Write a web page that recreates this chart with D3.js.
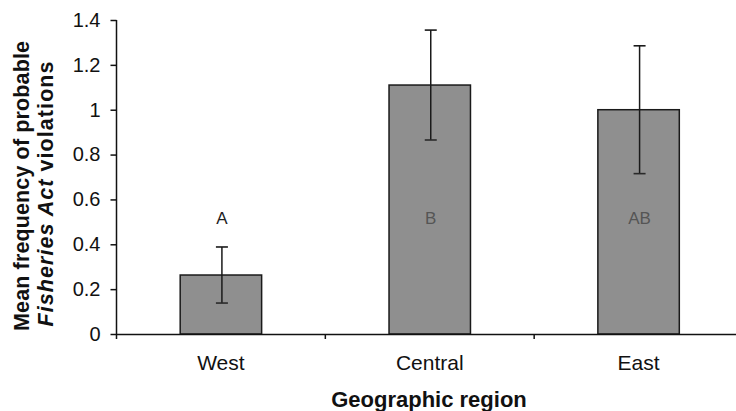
<!DOCTYPE html>
<html>
<head>
<meta charset="utf-8">
<script src="https://cdn.jsdelivr.net/npm/d3@7"></script>
<style>
  html, body { margin: 0; padding: 0; background: #fff; }
  svg { display: block; font-family: "Liberation Sans", Arial, sans-serif; }
</style>
</head>
<body>
<svg id="chart" width="736" height="411"></svg>
<script>
// data
const regions = ['West', 'Central', 'East'];
const meanViolations = [0.263, 1.11, 1.0];
const stdErrors = [0.125, 0.245, 0.285];
const groupLetters = ['A', 'B', 'AB'];
const yTicks = [0, 0.2, 0.4, 0.6, 0.8, 1, 1.2, 1.4];

const plotLeft = 116.5, plotRight = 743, plotTop = 20, plotBottom = 334;
const letterLevel = 0.49;

let svg = d3.select('#chart');

let x = d3.scaleBand()
  .domain(regions)
  .range([plotLeft, plotRight])
  .paddingInner(0.61)
  .paddingOuter(0.305);

let y = d3.scaleLinear()
  .domain([0, 1.4])
  .range([plotBottom, plotTop]);

let rows = regions.map((r, i) => ({
  region: r,
  mean: meanViolations[i],
  se: stdErrors[i],
  letter: groupLetters[i]
}));

// bars
svg.append('g')
  .attr('class', 'bars')
  .selectAll('rect')
  .data(rows)
  .join('rect')
  .attr('x', d => x(d.region))
  .attr('y', d => y(d.mean))
  .attr('width', x.bandwidth())
  .attr('height', d => y(0) - y(d.mean))
  .attr('fill', '#8f8f8f')
  .attr('stroke', '#1a1a1a')
  .attr('stroke-width', 1.5);

// error bars
let err = svg.append('g')
  .attr('class', 'errors')
  .selectAll('g')
  .data(rows)
  .join('g')
  .attr('transform', d => `translate(${x(d.region) + x.bandwidth() / 2 + 1},0)`);

err.append('line')
  .attr('y1', d => y(d.mean - d.se))
  .attr('y2', d => y(d.mean + d.se))
  .attr('stroke', '#1a1a1a')
  .attr('stroke-width', 1.5);

err.append('line')
  .attr('x1', -6).attr('x2', 6)
  .attr('y1', d => y(d.mean + d.se))
  .attr('y2', d => y(d.mean + d.se))
  .attr('stroke', '#1a1a1a')
  .attr('stroke-width', 1.6);

err.append('line')
  .attr('x1', -6).attr('x2', 6)
  .attr('y1', d => y(d.mean - d.se))
  .attr('y2', d => y(d.mean - d.se))
  .attr('stroke', '#2a2a2a')
  .attr('stroke-width', 1.6);

// significance letters
svg.append('g')
  .selectAll('text')
  .data(rows)
  .join('text')
  .attr('x', d => x(d.region) + x.bandwidth() / 2 + 1)
  .attr('y', y(letterLevel))
  .attr('text-anchor', 'middle')
  .attr('font-size', 17)
  .attr('fill', d => d.mean > letterLevel ? '#555' : '#222')
  .text(d => d.letter);

// y axis
let yAxis = svg.append('g')
  .attr('transform', `translate(${plotLeft},0)`)
  .call(d3.axisLeft(y)
    .tickValues(yTicks)
    .tickFormat(d => String(+d.toFixed(1)))
    .tickSize(6)
    .tickSizeOuter(0)
    .tickPadding(10));

yAxis.select('.domain')
  .attr('stroke', '#111')
  .attr('stroke-width', 1.5)
  .attr('d', `M0,${plotTop}V${plotBottom + 5}`);

yAxis.selectAll('.tick line')
  .attr('stroke', '#111')
  .attr('stroke-width', 1.5);

yAxis.selectAll('.tick text')
  .attr('font-size', 20)
  .attr('fill', '#111')
  .attr('font-family', '"Liberation Sans", Arial, sans-serif');

// x axis
let xAxis = svg.append('g')
  .attr('transform', `translate(0,${plotBottom})`)
  .call(d3.axisBottom(x)
    .tickSize(0)
    .tickSizeOuter(0)
    .tickPadding(21));

xAxis.select('.domain')
  .attr('stroke', '#111')
  .attr('stroke-width', 1.5);

xAxis.selectAll('.tick text')
  .attr('font-size', 21)
  .attr('fill', '#111')
  .attr('font-family', '"Liberation Sans", Arial, sans-serif');

xAxis.selectAll('line.boundary')
  .data(regions.slice(1))
  .join('line')
  .attr('class', 'boundary')
  .attr('x1', d => x(d) - x.step() * x.paddingInner() / 2)
  .attr('x2', d => x(d) - x.step() * x.paddingInner() / 2)
  .attr('y1', 0)
  .attr('y2', 5)
  .attr('stroke', '#111')
  .attr('stroke-width', 1.5);

// axis titles
svg.append('text')
  .attr('x', 429)
  .attr('y', 407)
  .attr('text-anchor', 'middle')
  .attr('font-size', 22)
  .attr('font-weight', 'bold')
  .attr('fill', '#111')
  .text('Geographic region');

let yTitle = svg.append('g')
  .attr('font-size', 21.5)
  .attr('font-weight', 'bold')
  .attr('fill', '#111')
  .attr('text-anchor', 'middle');

yTitle.append('text')
  .attr('transform', 'translate(29,186) rotate(-90)')
  .attr('textLength', 290)
  .text('Mean frequency of probable');

let line2 = yTitle.append('text')
  .attr('transform', 'translate(53,194) rotate(-90)')
  .attr('textLength', 265);

line2.append('tspan')
  .attr('font-style', 'italic')
  .text('Fisheries Act');

line2.append('tspan')
  .text(' violations');
</script>
</body>
</html>
